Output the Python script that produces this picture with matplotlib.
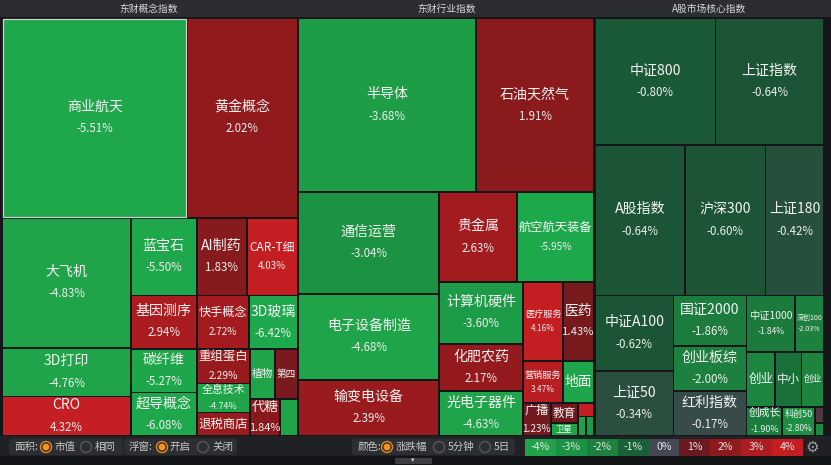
#!/usr/bin/env python3
"""Eastmoney style sector heat map: three treemap panels plus the toolbar."""

import matplotlib

matplotlib.use("Agg")
import matplotlib.pyplot as plt
import numpy as np
from matplotlib.patches import Circle, FancyBboxPatch, Rectangle

plt.rcParams["font.family"] = ["Noto Sans CJK SC", "DejaVu Sans"]

W, H = 831, 465

panel_titles = ["东财概念指数", "东财行业指数", "A股市场核心指数"]

concept_names = ["商业航天", "黄金概念", "大飞机", "3D打印", "CRO", "蓝宝石", "AI制药",
                 "CAR-T细", "基因测序", "碳纤维", "超导概念", "快手概念", "3D玻璃",
                 "重组蛋白", "全息技术", "退税商店", "植物", "第四", "代糖", ""]
concept_caps = [3680, 2210, 1664, 621, 506, 512, 388, 395, 350, 290, 287, 278, 262,
                183, 154, 125, 123, 113, 113, 65]
concept_pct = [-5.51, 2.02, -4.83, -4.76, 4.32, -5.50, 1.83, 4.03, 2.94, -5.27, -6.08,
               2.72, -6.42, 2.29, -4.74, 2.30, -4.50, 1.50, 1.84, -4.80]

industry_names = ["半导体", "石油天然气", "通信运营", "电子设备制造", "输变电设备", "贵金属",
                  "航空航天装备", "计算机硬件", "化肥农药", "光电子器件", "医疗服务", "医药",
                  "营销服务", "地面", "广播", "教育", "卫星", "", "", ""]
industry_caps = [3089, 2053, 1426, 1215, 787, 698, 693, 518, 393, 376, 316, 245, 168,
                 130, 92, 53, 35, 22, 16, 16]
industry_pct = [-3.68, 1.91, -3.04, -4.68, 2.39, 2.63, -5.95, -3.60, 2.17, -4.63, 4.16,
                1.43, 3.47, -5.00, 1.23, 1.30, -4.50, 4.00, -4.00, -3.50]

core_names = ["中证800", "上证指数", "A股指数", "沪深300", "上证180", "中证A100", "上证50",
              "国证2000", "创业板综", "红利指数", "中证1000", "深创100", "创业", "中小",
              "创业", "创成长", "科创50", "", ""]
core_caps = [1530, 1372, 1355, 1212, 873, 593, 510, 369, 329, 329, 274, 161, 157, 146,
             121, 104, 94, 14, 11]
core_pct = [-0.80, -0.64, -0.64, -0.60, -0.42, -0.62, -0.34, -1.86, -2.00, -0.17, -1.84,
            -2.03, -2.30, -1.50, -2.20, -1.90, -2.80, 0.20, -2.50]

# cells whose percentage is not printed in the original
name_only = {"植物", "第四", "地面", "创业", "中小"}
hovered = "商业航天"

legend_ticks = [-4, -3, -2, -1, 0, 1, 2, 3, 4]

# layout: panel boxes and the strip sequence of the treemap ("h" = row on top, "v" = column on left)
panel_boxes = [(2.5, 18, 297.5, 436), (298.5, 18, 594, 436), (595, 18, 823.5, 436)]
panel_strips = [
    [("h", 2), ("v", 3), ("h", 3), ("v", 3), ("h", 2), ("v", 3), ("h", 2), ("v", 1), ("h", 1)],
    [("h", 2), ("v", 3), ("h", 2), ("v", 3), ("h", 2), ("h", 2), ("v", 1), ("v", 2), ("h", 1), ("h", 2)],
    [("h", 2), ("h", 3), ("v", 2), ("v", 3), ("h", 2), ("h", 3), ("v", 1), ("v", 1), ("h", 1), ("h", 1)],
]

stop_pct = [-6, -4, -3, -2, -1.5, -1, -0.6, -0.3, 0, 0.5, 1, 1.5, 2, 3, 4, 6]
stop_rgb = [(30, 168, 76), (31, 162, 73), (27, 146, 67), (28, 128, 62), (25, 112, 57),
            (24, 96, 54), (28, 84, 53), (45, 78, 64), (68, 72, 84), (92, 34, 42),
            (108, 26, 31), (120, 26, 30), (143, 26, 28), (172, 28, 32), (196, 30, 35),
            (200, 32, 36)]


def pct_color(p):
    rgb = np.array(stop_rgb, dtype=float)
    return tuple(np.interp(p, stop_pct, rgb[:, k]) / 255 for k in range(3))


def strip_layout(values, strips, box):
    x0, y0, x1, y1 = box
    scale = (x1 - x0) * (y1 - y0) / float(sum(values))
    rects = []
    i = 0
    for orient, count in strips:
        group = values[i:i + count]
        area = sum(group) * scale
        if orient == "v":
            sw = area / (y1 - y0)
            y = y0
            for v in group:
                hh = v * scale / sw
                rects.append((x0, y, sw, hh))
                y += hh
            x0 += sw
        else:
            sh = area / (x1 - x0)
            x = x0
            for v in group:
                ww = v * scale / sh
                rects.append((x, y0, ww, sh))
                x += ww
            y0 += sh
        i += count
    return rects


def em_width(text):
    return sum(1.0 if ord(c) > 0x2E80 else 0.6 for c in text)


def px(size):
    return size * 72 / 100.0


def draw_cell(ax, rect, name, pct):
    x, y, w, h = rect
    g = 0.95
    cell = Rectangle((x + g, y + g), w - 2 * g, h - 2 * g, facecolor=pct_color(pct),
                     edgecolor="#d0d0d0" if name == hovered else "none", linewidth=0.9)
    ax.add_patch(cell)
    if not name:
        return
    show_pct = name not in name_only
    f = min(14.0, max((w - 3.5) / em_width(name), 7.0))
    if show_pct:
        fh = (h - 5) / 2.2
        if fh < 8.5:
            show_pct = False
        else:
            f = min(f, fh)
    if not show_pct:
        f = min(f, (h - 3) / 1.2)
    if f < 6:
        return
    cx, cy = x + w / 2, y + h / 2
    if show_pct:
        fp = min(f, max(0.82 * f, 8.3))
        t1 = ax.text(cx, cy - 0.78 * f, name, ha="center", va="center",
                     fontsize=px(f), color="#f4f4f4", fontweight="medium")
        t2 = ax.text(cx, cy + 0.78 * f, f"{pct:.2f}%", ha="center", va="center",
                     fontsize=px(fp), color="#eeeeee")
        texts = [t1, t2]
    else:
        texts = [ax.text(cx, cy, name, ha="center", va="center", fontsize=px(f),
                         color="#f4f4f4", fontweight="medium")]
    for t in texts:
        t.set_clip_path(cell)


def radio(ax, x, y, on):
    if on:
        ax.add_patch(Circle((x, y), 5.5, facecolor="#3a2a1a", edgecolor="#e08a2a", linewidth=1.0))
        ax.add_patch(Circle((x, y), 3.4, facecolor="#f29322", edgecolor="none"))
    else:
        ax.add_patch(Circle((x, y), 5.5, facecolor="none", edgecolor="#55585d", linewidth=1.0))


def main():
    fig = plt.figure(figsize=(W / 100, H / 100), dpi=100, facecolor="#151619")
    ax = fig.add_axes([0, 0, 1, 1])
    ax.set_xlim(0, W)
    ax.set_ylim(H, 0)
    ax.axis("off")

    # title bars
    title_spans = [(0, 297.5), (298, 594.5), (595, 831)]
    for (a, b), title in zip(title_spans, panel_titles):
        ax.add_patch(Rectangle((a, 0), b - a, 17.5, facecolor="#2b2d31", edgecolor="none"))
        ax.text((a + b) / 2 if b < 800 else (a + 823.5) / 2, 8.8, title, ha="center",
                va="center", fontsize=px(9.8), color="#d6d6d6")

    panels = [(concept_caps, concept_names, concept_pct),
              (industry_caps, industry_names, industry_pct),
              (core_caps, core_names, core_pct)]
    for (caps, names, pcts), box, strips in zip(panels, panel_boxes, panel_strips):
        rects = strip_layout(caps, strips, box)
        for rect, name, p in zip(rects, names, pcts):
            draw_cell(ax, rect, name, p)

    # toolbar
    ax.add_patch(Rectangle((0, 436), W, 20, facecolor="#1f2124", edgecolor="none"))
    ax.add_patch(Rectangle((0, 456), W, 9, facecolor="#131416", edgecolor="none"))
    ax.add_patch(Rectangle((395, 457.5), 37, 6.5, facecolor="#3b3d41", edgecolor="none"))
    ax.text(413, 460.5, "▾", ha="center", va="center", fontsize=5, color="#d0d0d0",
            family="DejaVu Sans")
    for a, b in [(9, 123), (124, 237), (352, 515)]:
        ax.add_patch(FancyBboxPatch((a, 438.5), b - a, 16.5, boxstyle="round,pad=0,rounding_size=3",
                                    facecolor="#2c2e32", edgecolor="none"))
    ty = 447
    tkw = dict(ha="left", va="center", fontsize=px(10.5), color="#c8c8c8")
    ax.text(14, ty, "面积:", **tkw)
    radio(ax, 46, ty, True)
    ax.text(54, ty, "市值", **tkw)
    radio(ax, 86, ty, False)
    ax.text(95, ty, "相同", **tkw)
    ax.text(129, ty, "浮窗:", **tkw)
    radio(ax, 162, ty, True)
    ax.text(170, ty, "开启", **tkw)
    radio(ax, 203, ty, False)
    ax.text(212, ty, "关闭", **tkw)
    ax.text(358, ty, "颜色:", **tkw)
    radio(ax, 387, ty, True)
    ax.text(396, ty, "涨跌幅", **tkw)
    radio(ax, 439, ty, False)
    ax.text(448, ty, "5分钟", **tkw)
    radio(ax, 485, ty, False)
    ax.text(494, ty, "5日", **tkw)

    sw = (803 - 525) / len(legend_ticks)
    for i, t in enumerate(legend_ticks):
        x = 525 + i * sw
        ax.add_patch(Rectangle((x, 438.5), sw, 17, facecolor=pct_color(t), edgecolor="none"))
        ax.text(x + sw / 2, ty, f"{t}%", ha="center", va="center", fontsize=px(10.5),
                color="#e6e6e6")
    ax.text(812, ty, "⚙", ha="center", va="center", fontsize=11, color="#9c9c9c",
            family="DejaVu Sans")

    fig.savefig("out.png", dpi=100, facecolor=fig.get_facecolor())
    plt.close(fig)


if __name__ == "__main__":
    main()
